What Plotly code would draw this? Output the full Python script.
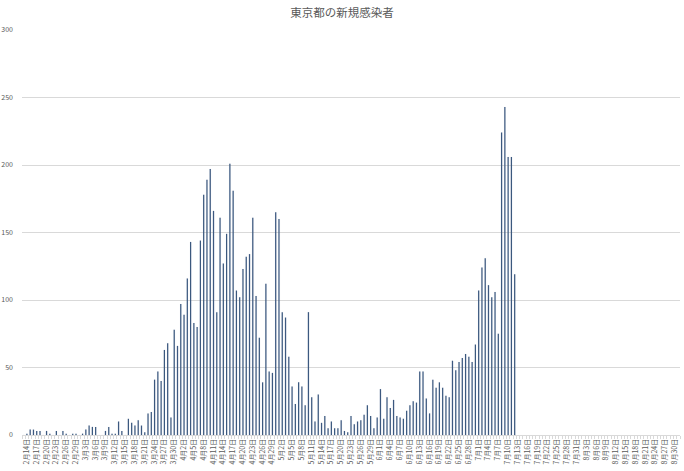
import datetime as dt
import plotly.graph_objects as go

# ---- data ----
start_date = dt.date(2020, 2, 14)
end_date = dt.date(2020, 9, 1)

feb_values = [0, 1, 4, 4, 3, 3, 0, 3, 1, 0, 3, 0, 3, 1, 0, 1]          # Feb 14 - Feb 29
mar_values = [1, 0, 1, 4, 7, 6, 6, 0, 0, 3, 6, 1, 1, 10, 3, 0, 12, 9, 7, 11,
              7, 2, 16, 17, 41, 47, 40, 63, 68, 13, 78]                   # Mar 1 - Mar 31
apr_values = [66, 97, 89, 116, 143, 83, 80, 144, 178, 189, 197, 166, 91, 161, 127,
              149, 201, 181, 107, 102, 123, 132, 134, 161, 103, 72, 39, 112, 47, 46]
may_values = [165, 160, 91, 87, 58, 36, 23, 39, 36, 22, 91, 28, 10, 30, 9, 14, 5,
              10, 5, 5, 11, 3, 2, 14, 8, 10, 11, 15, 22, 14, 5]
jun_values = [13, 34, 12, 28, 20, 26, 14, 13, 12, 18, 22, 25, 24, 47, 47, 27, 16,
              41, 35, 39, 35, 29, 28, 55, 48, 54, 57, 60, 58, 54]
jul_values = [67, 107, 124, 131, 111, 102, 106, 75, 224, 243, 206, 206, 119]  # Jul 1 - Jul 13

title_text = "東京都の新規感染者"
y_ticks = [0, 50, 100, 150, 200, 250, 300]

# ---- build categories / series ----
n_days = (end_date - start_date).days + 1
categories = []
for i in range(n_days):
    d = start_date + dt.timedelta(days=i)
    categories.append(f"{d.month}月{d.day}日")

values = feb_values + mar_values + apr_values + may_values + jun_values + jul_values
values = values + [None] * (n_days - len(values))

tick_text = [c if i % 3 == 0 else "" for i, c in enumerate(categories)]

FIG_W = 684
FIG_H = 471

fig = go.Figure()
fig.add_trace(go.Bar(
    x=categories,
    y=values,
    width=0.38,
    marker=dict(color="#3D5A80", line=dict(width=0.05, color="#3D5A80")),
    hoverinfo="x+y",
))

font_family = "Noto Sans CJK JP, Noto Sans, sans-serif"

fig.update_layout(
    width=FIG_W,
    height=FIG_H,
    margin=dict(l=22, r=4, t=29.5, b=35.5, autoexpand=False),
    paper_bgcolor="white",
    plot_bgcolor="white",
    showlegend=False,
    title=dict(
        text=title_text,
        x=342 / FIG_W,
        xanchor="center",
        y=1 - 12.5 / FIG_H,
        yanchor="middle",
        font=dict(family=font_family, size=11.5, color="#595959"),
    ),
    bargap=0.5,
)

fig.update_xaxes(
    type="category",
    categoryorder="array",
    categoryarray=categories,
    range=[-0.5, n_days - 0.5],
    tickmode="array",
    tickvals=categories,
    ticktext=tick_text,
    tickangle=-90,
    tickson="boundaries",
    ticks="outside",
    ticklen=3,
    tickcolor="#D9D9D9",
    ticklabelshift=3,
    tickfont=dict(family=font_family, size=7, color="#595959"),
    showline=True,
    linecolor="#D9D9D9",
    linewidth=1,
    showgrid=False,
    zeroline=False,
    automargin=False,
)

fig.update_yaxes(
    range=[0, 300],
    tickmode="array",
    tickvals=y_ticks,
    ticktext=[str(v) for v in y_ticks],
    showgrid=True,
    gridcolor="#D9D9D9",
    gridwidth=1,
    zeroline=False,
    showline=False,
    ticks="",
    ticklabelstandoff=8,
    color="#595959",
    tickfont=dict(family=font_family, size=7, color="#595959"),
    automargin=False,
)

# remove the default page margin so the figure fills the window exactly
fig.write_html(
    "out.html",
    config={"displayModeBar": False},
    post_script="document.body.style.margin='0';document.body.style.overflow='hidden';",
)
